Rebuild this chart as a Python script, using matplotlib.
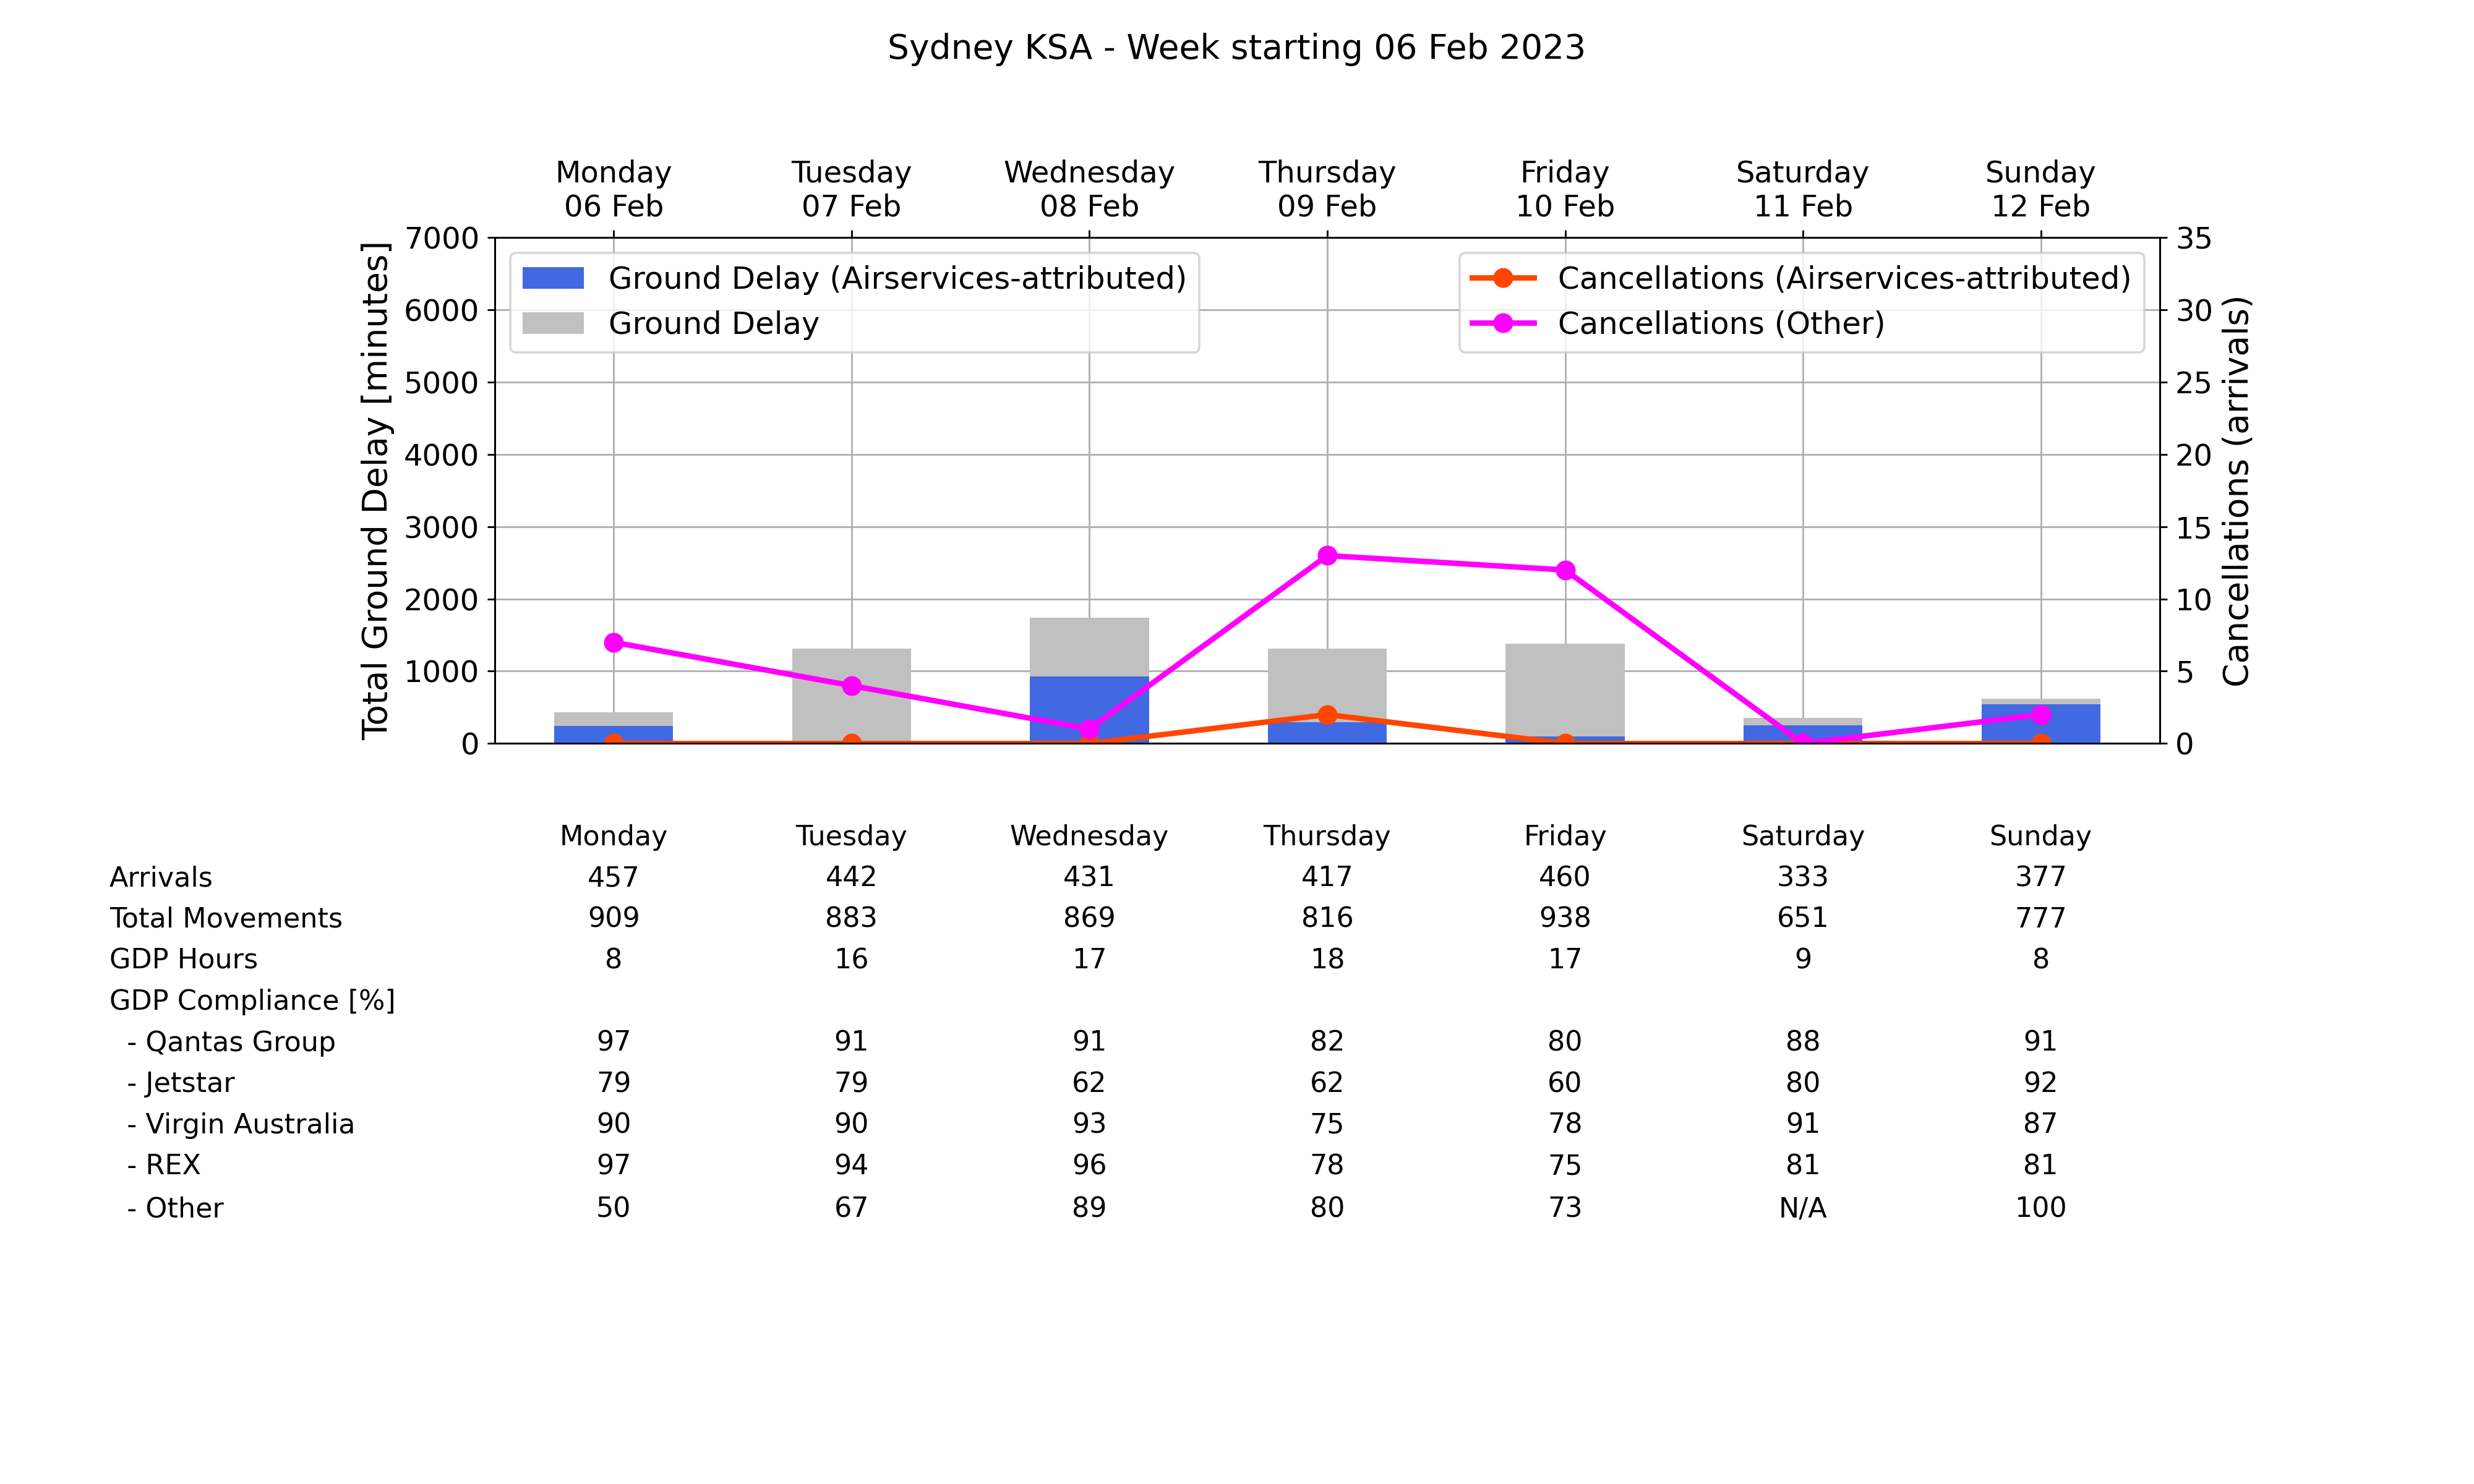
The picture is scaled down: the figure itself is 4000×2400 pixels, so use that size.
import matplotlib
matplotlib.use("Agg")
import matplotlib.pyplot as plt
import matplotlib.transforms as mtransforms

days = ["Monday", "Tuesday", "Wednesday", "Thursday", "Friday", "Saturday", "Sunday"]
dates = ["06 Feb", "07 Feb", "08 Feb", "09 Feb", "10 Feb", "11 Feb", "12 Feb"]
ground_delay = [430, 1310, 1740, 1310, 1380, 350, 620]
ground_delay_as = [240, 0, 930, 290, 100, 250, 540]
canc_as = [0, 0, 0, 2, 0, 0, 0]
canc_other = [7, 4, 1, 13, 12, 0, 2]

row_labels = ["Arrivals", "Total Movements", "GDP Hours", "GDP Compliance [%]",
              "  - Qantas Group", "  - Jetstar", "  - Virgin Australia", "  - REX", "  - Other"]
arrivals = ["457", "442", "431", "417", "460", "333", "377"]
movements = ["909", "883", "869", "816", "938", "651", "777"]
gdp_hours = ["8", "16", "17", "18", "17", "9", "8"]
compliance_header = [""] * 7
qantas = ["97", "91", "91", "82", "80", "88", "91"]
jetstar = ["79", "79", "62", "62", "60", "80", "92"]
virgin = ["90", "90", "93", "75", "78", "91", "87"]
rex = ["97", "94", "96", "78", "75", "81", "81"]
other = ["50", "67", "89", "80", "73", "N/A", "100"]
rows = [arrivals, movements, gdp_hours, compliance_header, qantas, jetstar, virgin, rex, other]

fig = plt.figure(figsize=(15.625, 9.375), dpi=256)
ax = fig.add_axes([0.2, 0.499, 0.673, 0.341])
x = list(range(7))
ax.bar(x, ground_delay_as, width=0.5, color="royalblue", label="Ground Delay (Airservices-attributed)", zorder=3)
ax.bar(x, [g - a for g, a in zip(ground_delay, ground_delay_as)], bottom=ground_delay_as, width=0.5,
       color="silver", label="Ground Delay", zorder=3)
ax.set_xlim(-0.5, 6.5)
ax.set_ylim(0, 7000)
ax.set_ylabel("Total Ground Delay [minutes]", fontsize=15.5)
ax.tick_params(labelsize=13.5)
ax.grid(True, color="#b0b0b0", zorder=0)
ax.set_axisbelow(True)
ax.set_xticks(x)
ax.tick_params(axis="x", bottom=False, top=True, labeltop=True, labelbottom=False)
ax.set_xticklabels([f"{d}\n{dt}" for d, dt in zip(days, dates)], fontsize=13.5)
ax.legend(loc="upper left", fontsize=14)

ax2 = ax.twinx()
ax2.plot(x, canc_as, color="orangered", marker="o", lw=2.5, ms=8, label="Cancellations (Airservices-attributed)")
ax2.plot(x, canc_other, color="magenta", marker="o", lw=2.5, ms=8, label="Cancellations (Other)")
ax2.set_ylim(0, 35)
ax2.set_ylabel("Cancellations (arrivals)", fontsize=15.5)
ax2.tick_params(labelsize=13.5)
ax2.legend(loc="upper right", fontsize=14)

fig.suptitle("Sydney KSA - Week starting 06 Feb 2023", fontsize=15.5, y=0.978)

trans = mtransforms.blended_transform_factory(ax.transData, fig.transFigure)
H = 937.5
fs = 12.5
for i, d in enumerate(days):
    fig.text(i, 1 - 529 / H, d, transform=trans, ha="center", va="center", fontsize=fs)
ys = [555, 581, 607, 633, 659, 685, 711, 737, 764]
for lab, vals, yp in zip(row_labels, rows, ys):
    yf = 1 - yp / H
    fig.text(69 / 1562.5, yf, lab, ha="left", va="center", fontsize=fs)
    for i, v in enumerate(vals):
        fig.text(i, yf, v, transform=trans, ha="center", va="center", fontsize=fs)

fig.savefig("out.png", dpi=256)
